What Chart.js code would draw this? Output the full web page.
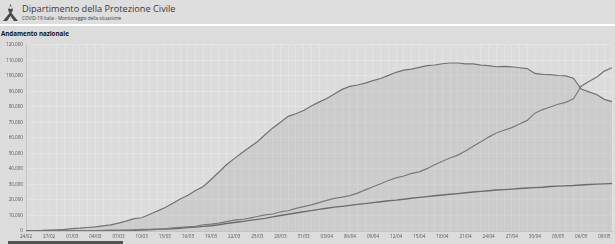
<!DOCTYPE html>
<html>
<head>
<meta charset="utf-8">
<script src="https://cdn.jsdelivr.net/npm/chart.js@4.4.1/dist/chart.umd.min.js"></script>
<style>
  html, body { margin: 0; padding: 0; width: 615px; height: 244px; overflow: hidden; background: #ffffff; font-family: "Open Sans", "Liberation Sans", sans-serif; }
  #header { position: absolute; left: 0; top: 0; width: 615px; height: 24px; background: #dedede; }
  #logo { position: absolute; left: 2px; top: 4px; }
  #title { position: absolute; left: 22px; top: 2px; font-size: 9.2px; color: #3a3a3a; white-space: nowrap; }
  #subtitle { position: absolute; left: 22px; top: 15px; font-size: 4.6px; color: #3a3a3a; white-space: nowrap; }
  #panel { position: absolute; left: 0; top: 26px; width: 615px; height: 218px; background: #dcdcdc; }
  #panel-title { position: absolute; left: 1px; top: 29px; font-size: 6.2px; font-weight: bold; color: #111; white-space: nowrap; }
  #wrap { position: absolute; left: 0; top: 39px; width: 615px; height: 205px; }
  #tab { position: absolute; left: 8px; top: 241px; width: 115px; height: 3px; background: #555; }
</style>
</head>
<body>
<div id="header">
  <svg id="logo" width="17" height="18" viewBox="0 0 17 18">
    <path d="M8.5 0 L11 6 L9.5 9 L16 17 L12 17 L8.5 12 L5 17 L1 17 L7.5 9 L6 6 Z" fill="#4a4a4a"/>
    <circle cx="8.5" cy="3.5" r="1.6" fill="#dedede"/>
  </svg>
  <div id="title">Dipartimento della Protezione Civile</div>
  <div id="subtitle">COVID-19 Italia - Monitoraggio della situazione</div>
</div>
<div id="panel"></div>
<div id="panel-title">Andamento nazionale</div>
<div id="wrap"><canvas id="chart"></canvas></div>
<div id="tab"></div>
<script>
const dates = [
  "24/02", "25/02", "26/02", "27/02", "28/02", "29/02",
  "01/03", "02/03", "03/03", "04/03", "05/03", "06/03", "07/03", "08/03", "09/03", "10/03",
  "11/03", "12/03", "13/03", "14/03", "15/03", "16/03", "17/03", "18/03", "19/03", "20/03",
  "21/03", "22/03", "23/03", "24/03", "25/03", "26/03", "27/03", "28/03", "29/03", "30/03", "31/03",
  "01/04", "02/04", "03/04", "04/04", "05/04", "06/04", "07/04", "08/04", "09/04", "10/04",
  "11/04", "12/04", "13/04", "14/04", "15/04", "16/04", "17/04", "18/04", "19/04", "20/04",
  "21/04", "22/04", "23/04", "24/04", "25/04", "26/04", "27/04", "28/04", "29/04", "30/04",
  "01/05", "02/05", "03/05", "04/05", "05/05", "06/05", "07/05", "08/05", "09/05", "10/05",
]

// totale positivi
const positivi = [
  221, 311, 385, 588, 821, 1049,
  1577, 1835, 2263, 2706, 3296, 3916, 5061, 6387, 7985, 8514,
  10590, 12839, 14955, 17750, 20603, 23073, 26062, 28710, 33190, 37860,
  42681, 46638, 50418, 54030, 57521, 62013, 66414, 70065, 73880, 75528, 77635,
  80572, 83049, 85388, 88274, 91246, 93187, 94067, 95262, 96877, 98273,
  100269, 102253, 103616, 104291, 105418, 106607, 106962, 107771, 108257, 108237,
  107709, 107699, 106848, 106527, 105847, 106103, 105813, 105205, 104657, 101551,
  100943, 100704, 100179, 99980, 98467, 91528, 89624, 87961, 84842, 83324,
]

// dimessi guariti
const guariti = [
  1, 1, 3, 45, 46, 50,
  83, 149, 160, 276, 414, 523, 589, 622, 724, 1004,
  1045, 1258, 1439, 1966, 2335, 2749, 2941, 4025, 4440, 5129,
  6072, 7024, 7432, 8326, 9362, 10361, 10950, 12384, 13030, 14620, 15729,
  16847, 18278, 19758, 20996, 21815, 22837, 24392, 26491, 28470, 30455,
  32534, 34211, 35435, 37130, 38092, 40164, 42727, 44927, 47055, 48877,
  51600, 54543, 57576, 60498, 63120, 64928, 66624, 68941, 71252, 75945,
  78249, 79914, 81654, 82879, 85231, 93245, 96276, 99023, 103031, 105186,
]

// deceduti
const deceduti = [
  7, 10, 12, 17, 21, 29,
  34, 52, 79, 107, 148, 197, 233, 366, 463, 631,
  827, 1016, 1266, 1441, 1809, 2158, 2503, 2978, 3405, 4032,
  4825, 5476, 6077, 6820, 7503, 8165, 9134, 10023, 10779, 11591, 12428,
  13155, 13915, 14681, 15362, 15887, 16523, 17127, 17669, 18279, 18849,
  19468, 19899, 20465, 21067, 21645, 22170, 22745, 23227, 23660, 24114,
  24648, 25085, 25549, 25969, 26384, 26644, 26977, 27359, 27682, 27967,
  28236, 28710, 28884, 29079, 29315, 29684, 29958, 30201, 30395, 30560,
]

const tickFont = { family: '"Open Sans", "Liberation Sans", sans-serif', size: 4.6 }
const lineColor = "#727272"

new Chart(document.getElementById("chart"), {
  type: "line",
  data: {
    labels: dates,
    datasets: [
      {
        label: "Totale positivi",
        data: positivi,
        borderColor: lineColor,
        backgroundColor: "rgba(150, 150, 150, 0.22)",
        fill: "origin",
        borderWidth: 1.2,
        pointRadius: 0,
        tension: 0,
      },
      {
        label: "Dimessi guariti",
        data: guariti,
        borderColor: lineColor,
        fill: false,
        borderWidth: 1.2,
        pointRadius: 0,
        tension: 0,
      },
      {
        label: "Deceduti",
        data: deceduti,
        borderColor: "#606060",
        fill: false,
        borderWidth: 1.4,
        pointRadius: 0,
        tension: 0,
      },
    ],
  },
  options: {
    responsive: true,
    maintainAspectRatio: false,
    animation: false,
    layout: { padding: { top: 5, right: 3, left: 0, bottom: 0 } },
    plugins: { legend: { display: false }, tooltip: { enabled: false } },
    scales: {
      x: {
        offset: false,
        grid: { color: "rgba(255, 255, 255, 0.35)", drawTicks: false, lineWidth: 0.6 },
        border: { color: "#c4c4c4" },
        ticks: {
          autoSkip: false,
          maxRotation: 0,
          minRotation: 0,
          padding: 3,
          color: "#555",
          font: tickFont,
          callback: function (value, index) {
            return index % 3 === 0 ? dates[index] : ""
          },
        },
        afterFit: (scale) => { scale.height = 13 },
      },
      y: {
        min: 0,
        max: 120000,
        grid: { color: "rgba(255, 255, 255, 0.35)", drawTicks: false, lineWidth: 0.6 },
        border: { color: "#c4c4c4" },
        ticks: {
          stepSize: 10000,
          padding: 3,
          color: "#555",
          font: tickFont,
          callback: (v) => v.toLocaleString("en-US"),
        },
        afterFit: (scale) => { scale.width = 26 },
      },
    },
  },
})
</script>
</body>
</html>
